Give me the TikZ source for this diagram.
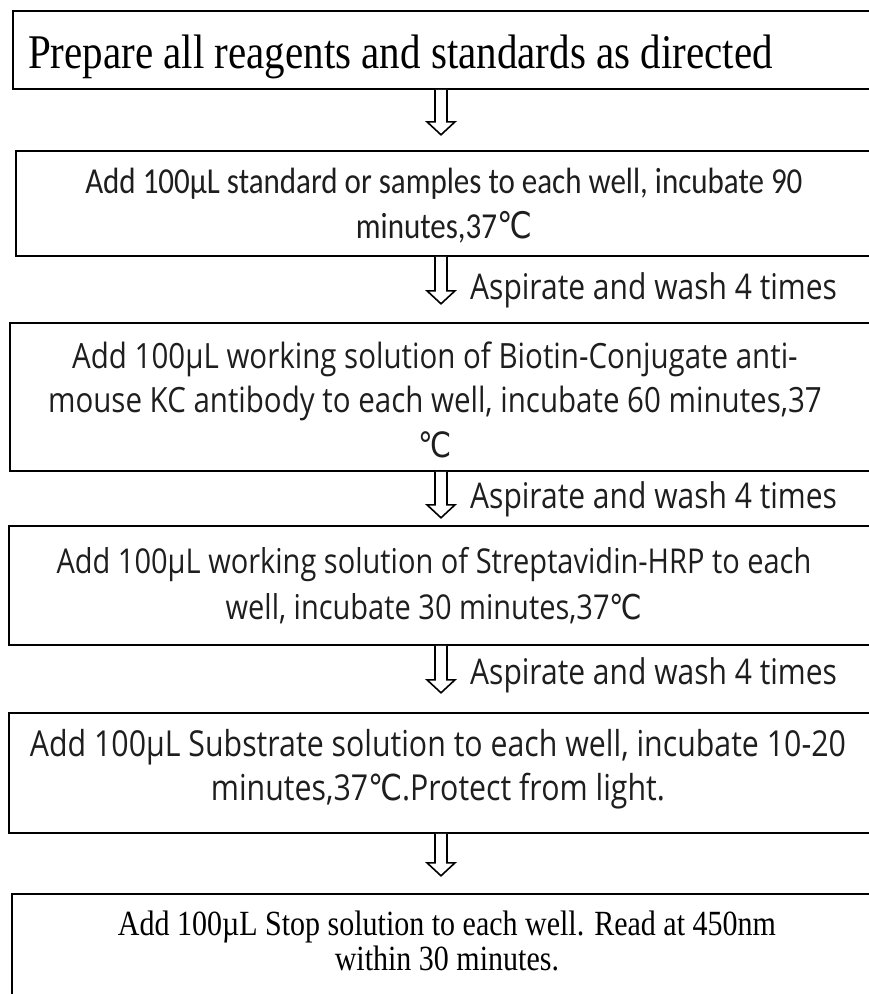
\documentclass[tikz,border=0pt]{standalone}
\usepackage{fontspec}
\setmainfont{Liberation Serif}
\newfontfamily\carlito{Carlito}
\newfontfamily\opensans{Open Sans}
\newfontfamily\dvsans{DejaVu Sans}
\usetikzlibrary{calc, positioning}
\definecolor{InkGray}{RGB}{30,30,30}
\newcommand{\degC}{{\dvsans ℃}}

\begin{document}
\begin{tikzpicture}[x=1pt, y=-1pt,
	stepbox/.style={draw, line width=1.8pt, anchor=north west, minimum width=866pt, inner sep=0pt},
	steptext/.style={align=center, inner sep=0pt, text=InkGray, yscale=1.18, transform shape},
	hollow/.style={line width=1.6pt, line join=miter, fill=white},
	wash/.style={anchor=west, inner sep=0pt, text=InkGray, yscale=1.18, transform shape,
		font=\opensans\fontsize{30}{36}\selectfont}]
	\useasboundingbox (0,0) rectangle (869,994);
	\coordinate (ax) at (441,0);
	\begin{scope}
	\clip (0,0) rectangle (869,994);
	\node[stepbox, minimum height=78pt] (b1) at (12,10) {};
	\node[stepbox, minimum height=105pt] (b2) at (15,150) {};
	\node[stepbox, minimum height=148pt] (b3) at (9,322) {};
	\node[stepbox, minimum height=119pt] (b4) at (8,525) {};
	\node[stepbox, minimum height=120pt] (b5) at (8,712) {};
	\node[stepbox, minimum height=110pt] (b6) at (11,893) {};
	\end{scope}

	\node[steptext, anchor=base west, text=black, font=\fontsize{41}{46}\selectfont] (s1)
		at ([xshift=16pt, yshift=-19pt]b1.west) {Prepare all reagents and standards as directed};
	\node[steptext, font=\carlito\fontsize{31}{38}\selectfont] (s2) at ([xshift=-5pt, yshift=-2pt]b2.center)
		{Add 100µL standard or samples to each well, incubate 90\\minutes,37\degC};
	\node[steptext, font=\opensans\fontsize{29.5}{38}\selectfont] (s3) at ([xshift=-8pt, yshift=-3pt]b3.center)
		{Add 100µL working solution of Biotin-Conjugate anti-\\mouse KC antibody to each well, incubate 60 minutes,37\\\degC};
	\node[steptext, font=\opensans\fontsize{29}{38.5}\selectfont] (s4) at ([xshift=-8pt]b4.center)
		{Add 100µL working solution of Streptavidin-HRP to each\\well, incubate 30 minutes,37\degC};
	\node[steptext, font=\opensans\fontsize{30.3}{37.5}\selectfont] (s5) at ([xshift=-4pt, yshift=4pt]b5.center)
		{Add 100µL Substrate solution to each well, incubate 10-20\\minutes,37\degC.Protect from light.};
	\node[steptext, text=black, font=\fontsize{30}{30}\selectfont] (s6) at ([xshift=2pt, yshift=8pt]b6.center)
		{Add 100µL Stop solution to each well. Read at 450nm\\within 30 minutes.};

	% hollow arrows between the steps
	\foreach \i/\len in {1/45, 2/47, 3/46, 4/47, 5/42}{
		\coordinate (t\i) at (ax |- b\i.south);
		\coordinate (h\i) at ($(t\i)+(0,\len)$);
		\draw[hollow] ($(t\i)+(-6,0)$) -- ($(h\i)+(-6,-13)$) -- ($(h\i)+(-14,-13)$) -- (h\i)
			-- ($(h\i)+(14,-13)$) -- ($(h\i)+(6,-13)$) -- ($(t\i)+(6,0)$);
	}
	\node[wash] (w1) at ($(t2)+(29,33)$) {Aspirate and wash 4 times};
	\node[wash] (w2) at ($(t3)+(29,27)$) {Aspirate and wash 4 times};
	\node[wash] (w3) at ($(t4)+(29,29)$) {Aspirate and wash 4 times};
\end{tikzpicture}
\end{document}
